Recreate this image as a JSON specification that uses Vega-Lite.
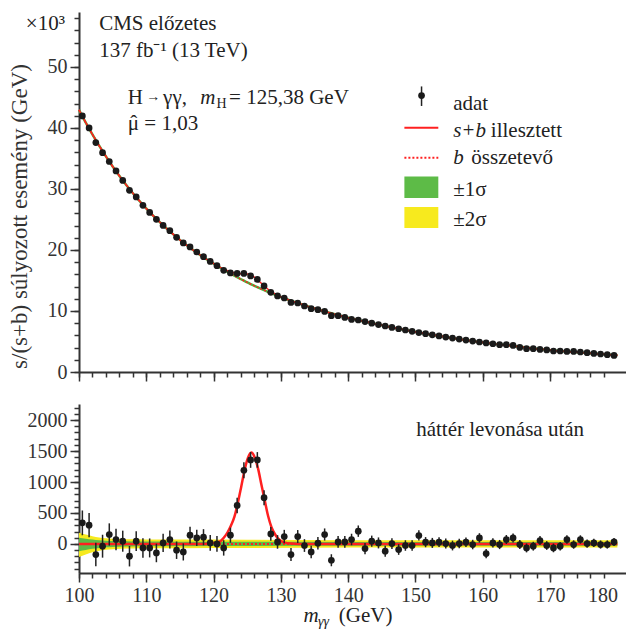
{
"$schema": "https://vega.github.io/schema/vega-lite/v6.json",
"background": "white",
"padding": {"left": 7, "top": 12, "right": 0, "bottom": 0},
"spacing": 22,
"config": {
  "font": "Liberation Serif",
  "view": {"stroke": null},
  "axis": {"grid": false, "domainColor": "#333", "domainWidth": 2, "tickColor": "#333", "tickWidth": 1.5, "labelFont": "Liberation Serif", "labelFontSize": 20, "labelColor": "#333", "titleFont": "Liberation Serif", "titleFontSize": 22, "titleFontWeight": "normal", "titleColor": "#333", "labelPadding": 3, "format": "d"}
},
"datasets": {
  "main": [
    {"m":100.5,"n":41.97,"r":340,"e":200},{"m":101.5,"n":40.0,"r":303,"e":195},{"m":102.5,"n":37.6,"r":-172,"e":190},{"m":103.5,"n":35.95,"r":-37,"e":185},
    {"m":104.5,"n":34.5,"r":152,"e":180},{"m":105.5,"n":32.95,"r":71,"e":175},{"m":106.5,"n":31.4,"r":44,"e":170},{"m":107.5,"n":29.77,"r":-199,"e":165},
    {"m":108.5,"n":28.69,"r":44,"e":160},{"m":109.5,"n":27.31,"r":-65,"e":157},{"m":110.5,"n":26.16,"r":-65,"e":153},{"m":111.5,"n":25.02,"r":-146,"e":150},
    {"m":112.5,"n":24.03,"r":16,"e":147},{"m":113.5,"n":23.16,"r":71,"e":144},{"m":114.5,"n":22.07,"r":-102,"e":141},{"m":115.5,"n":21.15,"r":-130,"e":138},
    {"m":116.5,"n":20.49,"r":141,"e":135},{"m":117.5,"n":19.67,"r":97,"e":132},{"m":118.5,"n":18.9,"r":108,"e":130},{"m":119.5,"n":18.13,"r":16,"e":128},
    {"m":120.5,"n":17.43,"r":0,"e":126},{"m":121.5,"n":16.66,"r":-65,"e":124},{"m":122.5,"n":16.23,"r":141,"e":122},{"m":123.5,"n":16.16,"r":622,"e":125},
    {"m":124.5,"n":16.16,"r":1190,"e":128},{"m":125.5,"n":15.74,"r":1357,"e":128},{"m":126.5,"n":15.18,"r":1357,"e":126},{"m":127.5,"n":14.1,"r":746,"e":120},
    {"m":128.5,"n":13.05,"r":162,"e":112},{"m":129.5,"n":12.46,"r":32,"e":110},{"m":130.5,"n":12.13,"r":119,"e":108},{"m":131.5,"n":11.41,"r":-172,"e":106},
    {"m":132.5,"n":11.31,"r":119,"e":105},{"m":133.5,"n":10.82,"r":-26,"e":103},{"m":134.5,"n":10.38,"r":-130,"e":101},{"m":135.5,"n":10.21,"r":11,"e":100},
    {"m":136.5,"n":9.93,"r":152,"e":98},{"m":137.5,"n":9.23,"r":-264,"e":97},{"m":138.5,"n":9.23,"r":32,"e":96},{"m":139.5,"n":8.95,"r":32,"e":94},
    {"m":140.5,"n":8.62,"r":71,"e":93},{"m":141.5,"n":8.52,"r":206,"e":92},{"m":142.5,"n":8.26,"r":-75,"e":91},{"m":143.5,"n":8.01,"r":44,"e":90},
    {"m":144.5,"n":7.77,"r":16,"e":89},{"m":145.5,"n":7.54,"r":-118,"e":88},{"m":146.5,"n":7.31,"r":6,"e":87},{"m":147.5,"n":7.09,"r":-91,"e":86},
    {"m":148.5,"n":6.88,"r":-26,"e":85},{"m":149.5,"n":6.67,"r":-26,"e":84},{"m":150.5,"n":6.47,"r":136,"e":83},{"m":151.5,"n":6.28,"r":28,"e":82},
    {"m":152.5,"n":6.09,"r":16,"e":81},{"m":153.5,"n":5.91,"r":28,"e":80},{"m":154.5,"n":5.73,"r":6,"e":80},{"m":155.5,"n":5.56,"r":-26,"e":79},
    {"m":156.5,"n":5.39,"r":6,"e":78},{"m":157.5,"n":5.23,"r":28,"e":77},{"m":158.5,"n":5.07,"r":-10,"e":77},{"m":159.5,"n":4.92,"r":97,"e":76},
    {"m":160.5,"n":4.77,"r":-156,"e":75},{"m":161.5,"n":4.63,"r":16,"e":75},{"m":162.5,"n":4.48,"r":-10,"e":74},{"m":163.5,"n":4.48,"r":71,"e":73},
    {"m":164.5,"n":4.36,"r":97,"e":73},{"m":165.5,"n":4.03,"r":-10,"e":72},{"m":166.5,"n":3.82,"r":-65,"e":72},{"m":167.5,"n":3.82,"r":-37,"e":71},
    {"m":168.5,"n":3.7,"r":55,"e":71},{"m":169.5,"n":3.61,"r":-26,"e":70},{"m":170.5,"n":3.44,"r":-65,"e":70},{"m":171.5,"n":3.44,"r":-37,"e":69},
    {"m":172.5,"n":3.38,"r":71,"e":69},{"m":173.5,"n":3.38,"r":-10,"e":68},{"m":174.5,"n":3.28,"r":71,"e":68},{"m":175.5,"n":3.16,"r":6,"e":67},
    {"m":176.5,"n":3.05,"r":16,"e":67},{"m":177.5,"n":2.95,"r":-10,"e":66},{"m":178.5,"n":2.84,"r":-10,"e":66},{"m":179.5,"n":2.72,"r":32,"e":65}
  ],
  "topfit": [
    {"m":100,"b":42.95,"sb":42.95},{"m":100.5,"b":41.9,"sb":41.9},{"m":101.5,"b":39.9,"sb":39.9},{"m":102.5,"b":38.0,"sb":38.0},{"m":103.5,"b":36.2,"sb":36.2},
    {"m":104.5,"b":34.5,"sb":34.5},{"m":105.5,"b":32.9,"sb":32.9},{"m":106.5,"b":31.4,"sb":31.4},{"m":107.5,"b":30.0,"sb":30.0},{"m":108.5,"b":28.65,"sb":28.65},
    {"m":109.5,"b":27.4,"sb":27.4},{"m":110.5,"b":26.2,"sb":26.2},{"m":111.5,"b":25.1,"sb":25.1},{"m":112.5,"b":24.05,"sb":24.05},{"m":113.5,"b":23.05,"sb":23.05},
    {"m":114.5,"b":22.1,"sb":22.1},{"m":115.5,"b":21.2,"sb":21.2},{"m":116.5,"b":20.35,"sb":20.35},{"m":117.5,"b":19.55,"sb":19.55},{"m":118.5,"b":18.8,"sb":18.8},
    {"m":119.5,"b":18.1,"sb":18.11},{"m":120.5,"b":17.43,"sb":17.45},{"m":121.0,"b":17.09,"sb":17.14},{"m":121.5,"b":16.76,"sb":16.87},{"m":122.0,"b":16.44,"sb":16.63},
    {"m":122.5,"b":16.13,"sb":16.43},{"m":123.0,"b":15.83,"sb":16.27},{"m":123.5,"b":15.53,"sb":16.16},{"m":124.0,"b":15.24,"sb":16.12},{"m":124.5,"b":14.96,"sb":16.11},
    {"m":125.0,"b":14.69,"sb":16.06},{"m":125.5,"b":14.42,"sb":15.89},{"m":126.0,"b":14.16,"sb":15.58},{"m":126.5,"b":13.9,"sb":15.14},{"m":127.0,"b":13.65,"sb":14.63},
    {"m":127.5,"b":13.41,"sb":14.13},{"m":128.0,"b":13.17,"sb":13.65},{"m":128.5,"b":12.94,"sb":13.23},{"m":129.0,"b":12.72,"sb":12.89},{"m":129.5,"b":12.5,"sb":12.59},
    {"m":130.0,"b":12.29,"sb":12.34},{"m":130.5,"b":12.08,"sb":12.1},{"m":131.5,"b":11.68,"sb":11.68},{"m":132.5,"b":11.3,"sb":11.3},{"m":133.5,"b":10.93,"sb":10.93},
    {"m":134.5,"b":10.58,"sb":10.58},{"m":135.5,"b":10.25,"sb":10.25},{"m":136.5,"b":9.93,"sb":9.93},{"m":137.5,"b":9.62,"sb":9.62},{"m":138.5,"b":9.32,"sb":9.32},
    {"m":139.5,"b":9.03,"sb":9.03},{"m":140.5,"b":8.76,"sb":8.76},{"m":141.5,"b":8.5,"sb":8.5},{"m":142.5,"b":8.26,"sb":8.26},{"m":143.5,"b":8.01,"sb":8.01},
    {"m":144.5,"b":7.77,"sb":7.77},{"m":145.5,"b":7.54,"sb":7.54},{"m":146.5,"b":7.31,"sb":7.31},{"m":147.5,"b":7.09,"sb":7.09},{"m":148.5,"b":6.88,"sb":6.88},
    {"m":149.5,"b":6.67,"sb":6.67},{"m":150.5,"b":6.47,"sb":6.47},{"m":151.5,"b":6.28,"sb":6.28},{"m":152.5,"b":6.09,"sb":6.09},{"m":153.5,"b":5.91,"sb":5.91},
    {"m":154.5,"b":5.73,"sb":5.73},{"m":155.5,"b":5.56,"sb":5.56},{"m":156.5,"b":5.39,"sb":5.39},{"m":157.5,"b":5.23,"sb":5.23},{"m":158.5,"b":5.07,"sb":5.07},
    {"m":159.5,"b":4.92,"sb":4.92},{"m":160.5,"b":4.77,"sb":4.77},{"m":161.5,"b":4.63,"sb":4.63},{"m":162.5,"b":4.5,"sb":4.5},{"m":163.5,"b":4.4,"sb":4.4},
    {"m":164.5,"b":4.28,"sb":4.28},{"m":165.5,"b":4.13,"sb":4.13},{"m":166.5,"b":3.98,"sb":3.98},{"m":167.5,"b":3.86,"sb":3.86},{"m":168.5,"b":3.75,"sb":3.75},
    {"m":169.5,"b":3.64,"sb":3.64},{"m":170.5,"b":3.53,"sb":3.53},{"m":171.5,"b":3.43,"sb":3.43},{"m":172.5,"b":3.34,"sb":3.34},{"m":173.5,"b":3.26,"sb":3.26},
    {"m":174.5,"b":3.18,"sb":3.18},{"m":175.5,"b":3.1,"sb":3.1},{"m":176.5,"b":3.02,"sb":3.02},{"m":177.5,"b":2.94,"sb":2.94},{"m":178.5,"b":2.86,"sb":2.86},
    {"m":179.5,"b":2.78,"sb":2.78},{"m":180,"b":2.74,"sb":2.74}
  ],
  "sig": [
    {"m":100,"s":0},{"m":118.6,"s":0},{"m":119.6,"s":8},{"m":120.6,"s":25},{"m":121.1,"s":50},{"m":121.6,"s":110},{"m":122.1,"s":190},{"m":122.6,"s":300},
    {"m":123.1,"s":440},{"m":123.6,"s":660},{"m":124.1,"s":920},{"m":124.6,"s":1190},{"m":125.1,"s":1390},{"m":125.6,"s":1475},{"m":126.1,"s":1400},
    {"m":126.6,"s":1220},{"m":127.1,"s":960},{"m":127.6,"s":700},{"m":128.1,"s":450},{"m":128.6,"s":270},{"m":129.1,"s":160},{"m":129.6,"s":85},
    {"m":130.1,"s":42},{"m":130.6,"s":20},{"m":131.6,"s":5},{"m":132.6,"s":0},{"m":180,"s":0}
  ],
  "band": [
    {"m":100,"lo2":-210,"hi2":180,"lo1":-120,"hi1":100},{"m":101,"lo2":-170,"hi2":150,"lo1":-100,"hi1":85},{"m":102,"lo2":-135,"hi2":125,"lo1":-80,"hi1":70},
    {"m":103,"lo2":-110,"hi2":105,"lo1":-65,"hi1":58},{"m":104,"lo2":-95,"hi2":92,"lo1":-55,"hi1":50},{"m":105,"lo2":-85,"hi2":84,"lo1":-48,"hi1":45},
    {"m":106,"lo2":-80,"hi2":78,"lo1":-44,"hi1":42},{"m":108,"lo2":-75,"hi2":74,"lo1":-40,"hi1":39},{"m":110,"lo2":-72,"hi2":72,"lo1":-38,"hi1":37},
    {"m":115,"lo2":-70,"hi2":70,"lo1":-36,"hi1":36},{"m":125,"lo2":-66,"hi2":66,"lo1":-34,"hi1":34},{"m":140,"lo2":-60,"hi2":60,"lo1":-31,"hi1":31},
    {"m":160,"lo2":-58,"hi2":58,"lo1":-30,"hi1":30},{"m":180,"lo2":-60,"hi2":60,"lo1":-31,"hi1":31}
  ],
  "ttext": [
    {"x":103.0,"y":56.0,"t":"CMS előzetes"},{"x":103.0,"y":51.6,"t":"137 fb⁻¹ (13 TeV)"},{"x":107.25,"y":44.0,"t":"H"},
    {"x":112.5,"y":44.0,"t":"γγ,"},
    {"x":122.3,"y":44.0,"t":"= 125,38 GeV"},{"x":107.25,"y":39.6,"t":"μ = 1,03"},{"x":155.6,"y":42.9,"t":"adat"},
    {"x":161.2,"y":38.5,"t":"illesztett"},{"x":158.3,"y":34.1,"t":"összetevő"},{"x":155.6,"y":28.9,"t":"±1σ"},{"x":155.6,"y":24.0,"t":"±2σ"},
    {"x":92.1,"y":56.0,"t":"×10³"}
  ],
  "hat": [{"x":108.15,"y":39.6,"t":"ˆ"}],
  "arrow": [{"x":110.0,"y":44.4,"t":"→"}],
  "titext": [{"x":118.0,"y":44.0,"t":"m"},{"x":155.6,"y":38.5,"t":"s+b"},{"x":155.6,"y":34.1,"t":"b"}],
  "subtext": [{"x":120.45,"y":43.2,"t":"H"}],
  "legpt": [{"x":150.9,"y":45.3,"y1":46.8,"y2":43.6}],
  "legline": [{"x1":148.35,"x2":153.39,"y":40.05}],
  "legdot": [{"x1":148.35,"x2":153.39,"y":35.13}],
  "legbox": [{"x1":148.35,"x2":153.39,"y1":32.02,"y2":28.52,"k":"g"},{"x1":148.35,"x2":153.39,"y1":27.05,"y2":23.61,"k":"y"}],
  "zero": [{"a":100,"b":180,"v":0}],
  "btext": [{"x":150.1,"y":1745,"t":"háttér levonása után"},{"x":138.6,"y":-1269,"t":"(GeV)"}],
  "bitext": [{"x":133.37,"y":-1269,"t":"m"}],
  "bsub": [{"x":135.5,"y":-1334,"t":"γγ"}]
},
"vconcat": [
  {
    "width": 547, "height": 360,
    "resolve": {"axis": {"x": "independent", "y": "independent"}},
    "layer": [
      {"data": {"name": "topfit"}, "mark": {"type": "line", "color": "#4daf3c", "strokeWidth": 2.5, "interpolate": "monotone"},
       "encoding": {
         "x": {"field": "m", "type": "quantitative", "scale": {"domain": [100, 181.28], "nice": false, "zero": false},
               "axis": {"orient": "bottom", "values": [100,102,104,106,108,110,112,114,116,118,120,122,124,126,128,130,132,134,136,138,140,142,144,146,148,150,152,154,156,158,160,162,164,166,168,170,172,174,176,178], "tickSize": 5, "labels": false, "domain": false, "title": null}},
         "y": {"field": "b", "type": "quantitative", "scale": {"domain": [0, 59], "nice": false},
               "axis": {"orient": "left", "values": [0,2,4,6,8,10,12,14,16,18,20,22,24,26,28,30,32,34,36,38,40,42,44,46,48,50,52,54,56,58], "tickSize": 5, "labels": false, "domain": false, "title": null}}
       }},
      {"data": {"name": "topfit"}, "mark": {"type": "line", "color": "#ff2020", "strokeWidth": 1.5, "strokeDash": [2, 2], "interpolate": "monotone"},
       "encoding": {"x": {"field": "m", "type": "quantitative", "axis": null}, "y": {"field": "b", "type": "quantitative", "axis": null}}},
      {"data": {"name": "topfit"}, "mark": {"type": "line", "color": "#ff2020", "strokeWidth": 1.5, "interpolate": "monotone"},
       "encoding": {"x": {"field": "m", "type": "quantitative", "axis": null}, "y": {"field": "sb", "type": "quantitative", "axis": null}}},
      {"data": {"name": "main"}, "mark": {"type": "circle", "size": 45, "color": "#1a1a1a", "opacity": 1},
       "encoding": {
         "x": {"field": "m", "type": "quantitative", "axis": {"orient": "bottom", "values": [100,110,120,130,140,150,160,170], "tickSize": 9, "labels": false, "title": null}},
         "y": {"field": "n", "type": "quantitative", "axis": {"orient": "left", "values": [0,10,20,30,40,50], "tickSize": 9, "title": "s/(s+b) súlyozott esemény (GeV)", "titleFontSize": 23, "titleAngle": 270, "titleX": -60, "titleY": 204, "titleAlign": "center", "titleBaseline": "middle"}}
       }},
      {"data": {"name": "legbox"}, "mark": {"type": "rect"},
       "encoding": {"x": {"field": "x1", "type": "quantitative", "axis": null}, "x2": {"field": "x2"}, "y": {"field": "y1", "type": "quantitative", "axis": null}, "y2": {"field": "y2"},
                    "color": {"field": "k", "type": "nominal", "scale": {"domain": ["g", "y"], "range": ["#5dbb47", "#f7ea1e"]}, "legend": null}}},
      {"data": {"name": "legline"}, "mark": {"type": "rule", "color": "#ff2020", "strokeWidth": 2},
       "encoding": {"x": {"field": "x1", "type": "quantitative", "axis": null}, "x2": {"field": "x2"}, "y": {"field": "y", "type": "quantitative", "axis": null}}},
      {"data": {"name": "legdot"}, "mark": {"type": "rule", "color": "#ff2020", "strokeWidth": 2, "strokeDash": [2, 2]},
       "encoding": {"x": {"field": "x1", "type": "quantitative", "axis": null}, "x2": {"field": "x2"}, "y": {"field": "y", "type": "quantitative", "axis": null}}},
      {"data": {"name": "legpt"}, "mark": {"type": "rule", "color": "#222", "strokeWidth": 1.5},
       "encoding": {"x": {"field": "x", "type": "quantitative", "axis": null}, "y": {"field": "y1", "type": "quantitative", "axis": null}, "y2": {"field": "y2"}}},
      {"data": {"name": "legpt"}, "mark": {"type": "circle", "size": 45, "color": "#1a1a1a", "opacity": 1},
       "encoding": {"x": {"field": "x", "type": "quantitative", "axis": null}, "y": {"field": "y", "type": "quantitative", "axis": null}}},
      {"data": {"name": "ttext"}, "mark": {"type": "text", "align": "left", "baseline": "alphabetic", "fontSize": 21, "color": "#222"},
       "encoding": {"x": {"field": "x", "type": "quantitative", "axis": null}, "y": {"field": "y", "type": "quantitative", "axis": null}, "text": {"field": "t"}}},
      {"data": {"name": "hat"}, "mark": {"type": "text", "align": "center", "baseline": "alphabetic", "fontSize": 21, "color": "#222"},
       "encoding": {"x": {"field": "x", "type": "quantitative", "axis": null}, "y": {"field": "y", "type": "quantitative", "axis": null}, "text": {"field": "t"}}},
      {"data": {"name": "arrow"}, "mark": {"type": "text", "align": "left", "baseline": "alphabetic", "fontSize": 14, "color": "#222"},
       "encoding": {"x": {"field": "x", "type": "quantitative", "axis": null}, "y": {"field": "y", "type": "quantitative", "axis": null}, "text": {"field": "t"}}},
      {"data": {"name": "titext"}, "mark": {"type": "text", "align": "left", "baseline": "alphabetic", "fontSize": 21, "fontStyle": "italic", "color": "#222"},
       "encoding": {"x": {"field": "x", "type": "quantitative", "axis": null}, "y": {"field": "y", "type": "quantitative", "axis": null}, "text": {"field": "t"}}},
      {"data": {"name": "subtext"}, "mark": {"type": "text", "align": "left", "baseline": "alphabetic", "fontSize": 14, "color": "#222"},
       "encoding": {"x": {"field": "x", "type": "quantitative", "axis": null}, "y": {"field": "y", "type": "quantitative", "axis": null}, "text": {"field": "t"}}}
    ]
  },
  {
    "width": 547, "height": 169,
    "resolve": {"axis": {"x": "independent", "y": "independent"}},
    "layer": [
      {"data": {"name": "band"}, "mark": {"type": "area", "color": "#f7ea1e", "opacity": 1, "interpolate": "monotone"},
       "encoding": {
         "x": {"field": "m", "type": "quantitative", "scale": {"domain": [100, 181.28], "nice": false, "zero": false},
               "axis": {"orient": "bottom", "values": [100,102,104,106,108,110,112,114,116,118,120,122,124,126,128,130,132,134,136,138,140,142,144,146,148,150,152,154,156,158,160,162,164,166,168,170,172,174,176,178], "tickSize": 5, "labels": false, "domain": false, "title": null}},
         "y": {"field": "lo2", "type": "quantitative", "scale": {"domain": [-470, 2260], "nice": false},
               "axis": {"orient": "left", "values": [-400,-300,-200,-100,0,100,200,300,400,500,600,700,800,900,1000,1100,1200,1300,1400,1500,1600,1700,1800,1900,2000,2100,2200], "tickSize": 5, "labels": false, "domain": false, "title": null}},
         "y2": {"field": "hi2"}
       }},
      {"data": {"name": "band"}, "mark": {"type": "area", "color": "#5dbb47", "opacity": 1, "interpolate": "monotone"},
       "encoding": {"x": {"field": "m", "type": "quantitative", "axis": null}, "y": {"field": "lo1", "type": "quantitative", "axis": null}, "y2": {"field": "hi1"}}},
      {"data": {"name": "zero"}, "mark": {"type": "rule", "color": "#ff2020", "strokeWidth": 2, "strokeDash": [2, 2]},
       "encoding": {"x": {"field": "a", "type": "quantitative", "axis": null}, "x2": {"field": "b"}, "y": {"field": "v", "type": "quantitative", "axis": null}}},
      {"data": {"name": "sig"}, "mark": {"type": "line", "color": "#ff2020", "strokeWidth": 2.5, "interpolate": "monotone"},
       "encoding": {"x": {"field": "m", "type": "quantitative", "axis": null}, "y": {"field": "s", "type": "quantitative", "axis": null}}},
      {"data": {"name": "main"}, "mark": {"type": "errorbar", "ticks": false, "color": "#222", "thickness": 1.5},
       "encoding": {"x": {"field": "m", "type": "quantitative", "axis": null}, "y": {"field": "r", "type": "quantitative", "axis": null}, "yError": {"field": "e"}}},
      {"data": {"name": "main"}, "mark": {"type": "circle", "size": 45, "color": "#1a1a1a", "opacity": 1},
       "encoding": {
         "x": {"field": "m", "type": "quantitative", "axis": {"orient": "bottom", "values": [100,110,120,130,140,150,160,170,180], "tickSize": 9, "title": null,
               "labelAlign": {"condition": {"test": "datum.value === 180", "value": "right"}, "value": "center"},
               "tickOpacity": {"condition": {"test": "datum.value === 180", "value": 0}, "value": 1}}},
         "y": {"field": "r", "type": "quantitative", "axis": {"orient": "left", "values": [0,500,1000,1500,2000], "tickSize": 9, "title": null}}
       }},
      {"data": {"name": "btext"}, "mark": {"type": "text", "align": "left", "baseline": "alphabetic", "fontSize": 21, "color": "#222"},
       "encoding": {"x": {"field": "x", "type": "quantitative", "axis": null}, "y": {"field": "y", "type": "quantitative", "axis": null}, "text": {"field": "t"}}},
      {"data": {"name": "bitext"}, "mark": {"type": "text", "align": "left", "baseline": "alphabetic", "fontSize": 21, "fontStyle": "italic", "color": "#222"},
       "encoding": {"x": {"field": "x", "type": "quantitative", "axis": null}, "y": {"field": "y", "type": "quantitative", "axis": null}, "text": {"field": "t"}}},
      {"data": {"name": "bsub"}, "mark": {"type": "text", "align": "left", "baseline": "alphabetic", "fontSize": 14, "fontStyle": "italic", "color": "#222"},
       "encoding": {"x": {"field": "x", "type": "quantitative", "axis": null}, "y": {"field": "y", "type": "quantitative", "axis": null}, "text": {"field": "t"}}}
    ]
  }
]
}
